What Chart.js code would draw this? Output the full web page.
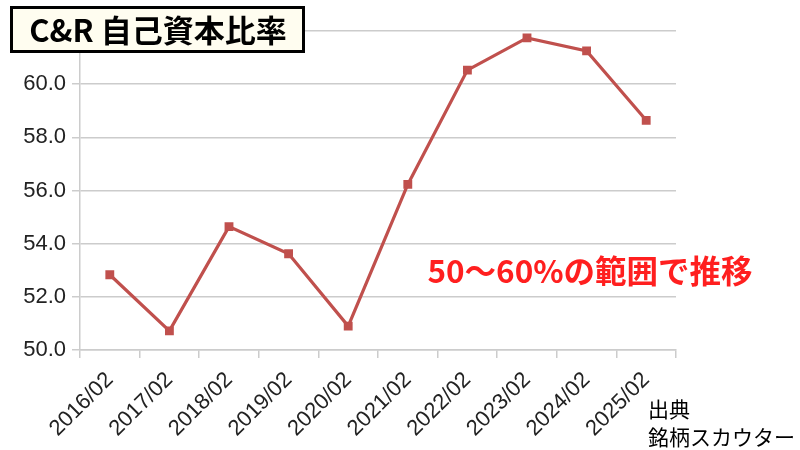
<!DOCTYPE html>
<html>
<head>
<meta charset="utf-8">
<script src="https://cdn.jsdelivr.net/npm/chart.js@4"></script>
<style>
  body { margin: 0; background: #fff; }
  #wrap { width: 800px; height: 450px; position: relative; }
</style>
</head>
<body>
<div id="wrap"><canvas id="chart" width="800" height="450"></canvas></div>
<script>
const labels = ['2016/02', '2017/02', '2018/02', '2019/02', '2020/02', '2021/02', '2022/02', '2023/02', '2024/02', '2025/02']
const ratio = [52.83, 50.72, 54.64, 53.62, 50.9, 56.23, 60.53, 61.74, 61.25, 58.64]

const titleText = 'C&R 自己資本比率'
const noteText = '50〜60%の範囲で推移'
const sourceLines = ['出典', '銘柄スカウター']

const lineColor = '#c0504d'
const cjk = '"Noto Sans CJK JP", "Noto Sans", sans-serif'
const tickFont = '"Liberation Sans", Arial, sans-serif'

// title box, red note and source text drawn on top of the chart
const overlay = {
    id: 'overlay',
    afterDraw(chart) {
        const c = chart.ctx
        c.save()
        // title
        c.fillStyle = '#fffdf0'
        c.fillRect(10, 6, 295, 47)
        c.lineWidth = 3
        c.strokeStyle = '#000'
        c.strokeRect(11.5, 7.5, 292, 44)
        c.fillStyle = '#000'
        c.font = 'bold 31px ' + cjk
        c.textAlign = 'center'
        c.textBaseline = 'middle'
        c.fillText(titleText, 158, 30)

        // note
        c.fillStyle = '#ff1f1f'
        c.font = 'bold 31.5px ' + cjk
        c.fillText(noteText, 590, 271)

        // source
        c.fillStyle = '#000'
        c.font = '21px ' + cjk
        c.textAlign = 'left'
        c.fillText(sourceLines[0], 648, 409)
        c.fillText(sourceLines[1], 648, 437)
        c.restore()
    }
}

const ctx = document.getElementById('chart')

var myChart = new Chart(ctx, {
    type: 'line',
    data: {
        labels: labels,
        datasets: [{
            data: ratio,
            borderColor: lineColor,
            backgroundColor: lineColor,
            borderWidth: 3.2,
            pointStyle: 'rect',
            pointRadius: 4,
            pointHoverRadius: 4,
            fill: false,
            tension: 0
        }]
    },
    options: {
        responsive: false,
        animation: false,
        layout: {
            padding: { top: 31, right: 124, left: 0, bottom: 0 }
        },
        plugins: {
            legend: { display: false },
            tooltip: { enabled: false }
        },
        scales: {
            x: {
                offset: true,
                afterFit: (scale) => { scale.height = 100 },
                grid: {
                    offset: true,
                    drawOnChartArea: false,
                    color: '#cccccc',
                    lineWidth: 1.5,
                    tickLength: 8
                },
                border: { color: '#cccccc', width: 1.5 },
                ticks: {
                    maxRotation: 45,
                    minRotation: 45,
                    color: '#222',
                    padding: 9,
                    font: { family: tickFont, size: 22 }
                }
            },
            y: {
                min: 50,
                max: 62,
                afterFit: (scale) => { scale.width = 80 },
                grid: {
                    color: '#cccccc',
                    lineWidth: 1.5,
                    tickLength: 8
                },
                border: { color: '#cccccc', width: 1.5 },
                ticks: {
                    stepSize: 2,
                    color: '#222',
                    padding: 6,
                    font: { family: tickFont, size: 22 },
                    callback: (v) => v.toFixed(1)
                }
            }
        }
    },
    plugins: [overlay]
})
</script>
</body>
</html>
